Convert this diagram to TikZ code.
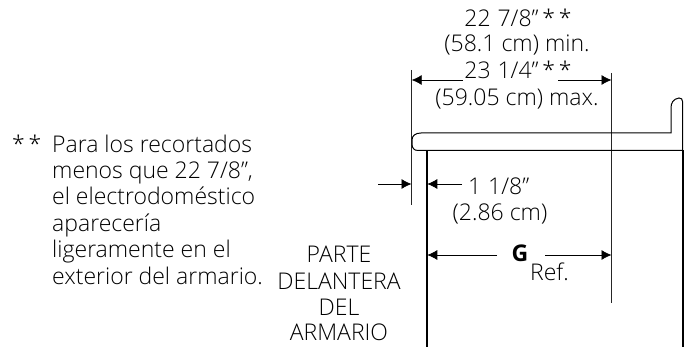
\documentclass[tikz,border=0pt]{standalone}
\usepackage{fontspec}
\setmainfont{Open Sans}[UprightFont=* Light,BoldFont=* Bold]
\usetikzlibrary{arrows.meta}
\tikzset{
 txt/.style={inner sep=0pt,font=\fontsize{23}{25}\selectfont,text=black},
 lft/.style={txt,anchor=base west},
 ctr/.style={txt,anchor=base},
 dim/.style={line width=0.7pt,draw=black,-{Latex[length=10pt,width=10pt]}},
 ext/.style={line width=0.5pt,draw=black!85},
 wall/.style={line width=1.6pt,draw=black},
 ctop/.style={line width=1pt,draw=black}
}
\begin{document}
\begin{tikzpicture}[x=1pt,y=-1pt]
\useasboundingbox (0,0) rectangle (690,347);
% labels
\node[ctr] (d1) at (518,26.7) {22\hspace{0.3em}7/8"\,*\,*};
\node[ctr] (d2) at (517,52) {(58.1 cm) min.};
\node[ctr] (d3) at (518,79) {23\hspace{0.3em}1/4"\,*\,*};
\node[ctr] (d4) at (517,106) {(59.05 cm) max.};
\node[lft] (n0) at (12,152.7) {*\,*};
\node[lft] (n1) at (52,152.7) {Para los recortados};
\node[lft] (n2) at (52,179) {menos que 22 7/8'',};
\node[lft] (n3) at (52,205) {el electrodoméstico};
\node[lft] (n4) at (52,231.7) {aparecería};
\node[lft] (n5) at (52,257.7) {ligeramente en el};
\node[lft] (n6) at (52,284) {exterior del armario.};
\node[ctr] (p1) at (339,262.7) {PARTE};
\node[ctr] (p2) at (339,289) {DELANTERA};
\node[ctr] (p3) at (339,315) {DEL};
\node[ctr] (p4) at (339,340.7) {ARMARIO};
\node[lft] (s1) at (468,195) {1\hspace{0.3em}1/8"};
\node[ctr] (s2) at (500,220.7) {(2.86 cm)};
\node[ctr,font=\fontsize{23}{25}\selectfont\bfseries] (g) at (520,261.7) {G};
\node[lft] (r) at (530,280) {Ref.};
% coordinates
\coordinate (elt) at (411.5,70);
\coordinate (elb) at (411.5,205);
\coordinate (ert) at (611.7,73);
\coordinate (erb) at (611.7,303);
\coordinate (a1s) at (463,80);
\coordinate (a1e) at (411.7,80);
\coordinate (a2s) at (558,80);
\coordinate (a2e) at (611.5,80);
\coordinate (b1s) at (378,184);
\coordinate (b1e) at (411.5,184);
\coordinate (b2s) at (462,184);
\coordinate (b2e) at (427.3,184);
\coordinate (c1s) at (497,255);
\coordinate (c1e) at (427.3,255);
\coordinate (c2s) at (545,255);
\coordinate (c2e) at (611.5,255);
% extension lines
\draw[ext] (elt) -- (elb);
\draw[ext] (ert) -- (erb);
% dimension arrows
\draw[dim] (a1s) -- (a1e);
\draw[dim] (a2s) -- (a2e);
\draw[dim] (b1s) -- (b1e);
\draw[dim] (b2s) -- (b2e);
\draw[dim] (c1s) -- (c1e);
\draw[dim] (c2s) -- (c2e);
% counter and cabinet
\draw[ctop] (682.7,150.5) -- (682.7,102)
  .. controls (682.7,99) and (681,98) .. (679,98)
  .. controls (673,99) and (671,103) .. (671,108) -- (671,133) -- (421,133)
  .. controls (415,133) and (412,136) .. (412,140) -- (412,144)
  .. controls (412,148) and (414,150.5) .. (418,150.5) -- cycle;
\draw[wall] (426.7,150.5) -- (426.7,347);
\draw[wall] (682.7,150.5) -- (682.7,347);
\end{tikzpicture}
\end{document}
